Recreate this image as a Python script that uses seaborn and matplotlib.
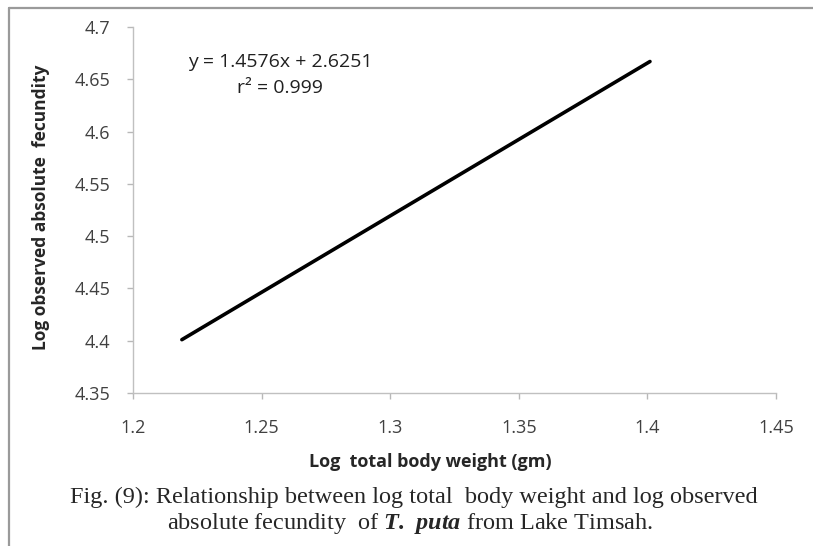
import numpy as np
import pandas as pd
import matplotlib
matplotlib.use('Agg')
import matplotlib.pyplot as plt
import seaborn as sns
from matplotlib.lines import Line2D

# fitted line end points
log_weight = [1.219, 1.401]
log_fecundity = [4.401, 4.667]

x_ticks = [1.2, 1.25, 1.3, 1.35, 1.4, 1.45]
y_ticks = [4.35, 4.4, 4.45, 4.5, 4.55, 4.6, 4.65, 4.7]

equation = 'y = 1.4576x + 2.6251'
r_squared = 'r\u00b2 = 0.999'

sns.set_style('ticks')
plt.rcParams['font.family'] = ['Open Sans', 'DejaVu Sans']
plt.rcParams['mathtext.fontset'] = 'custom'
plt.rcParams['mathtext.bf'] = 'Liberation Serif:bold:italic'
plt.rcParams['mathtext.rm'] = 'Liberation Serif'

W, H = 813, 546


def px(x, y):
    return x / W, 1 - y / H


df = pd.DataFrame({'x': log_weight, 'y': log_fecundity})

fig = plt.figure(figsize=(8.13, 5.46), dpi=100)
ax = fig.add_axes([133 / W, 1 - 393 / H, (776 - 133) / W, (393 - 27) / H])

sns.lineplot(data=df, x='x', y='y', color='black', linewidth=2.6, ax=ax)

ax.set_xlim(1.2, 1.45)
ax.set_ylim(4.35, 4.7)
ax.set_xticks(x_ticks)
ax.set_yticks(y_ticks)
ax.set_xticklabels([f'{v:g}' for v in x_ticks], fontsize=13, color='#404040')
ax.set_yticklabels([f'{v:g}' for v in y_ticks], fontsize=13, color='#404040')
ax.tick_params(axis='both', length=4.5, width=1, color='#b8b8b8', direction='out')
ax.tick_params(axis='x', pad=14)
ax.tick_params(axis='y', pad=12)

for side in ['top', 'right']:
    ax.spines[side].set_visible(False)
for side in ['left', 'bottom']:
    ax.spines[side].set_color('#c0c0c0')
    ax.spines[side].set_linewidth(1)

ax.set_xlabel('')
ax.set_ylabel('')
fig.text(*px(430, 462), 'Log  total body weight (gm)', fontsize=13, fontweight='bold',
         ha='center', va='center')
fig.text(*px(41, 207), 'Log observed absolute  fecundity', fontsize=12.5, fontweight='bold',
         ha='center', va='center', rotation=90)

fig.text(*px(280, 62), equation, ha='center', va='center', fontsize=14, color='#202020')
fig.text(*px(280, 88), r_squared, ha='center', va='center', fontsize=14, color='#202020')

fig.text(*px(414, 497), 'Fig. (9): Relationship between log total  body weight and log observed',
         ha='center', va='center', fontsize=17.5, family='Liberation Serif')
fig.text(*px(410, 523), 'absolute fecundity  of $\\mathbf{T.}$ $\\mathbf{puta}$ from Lake Timsah.',
         ha='center', va='center', fontsize=17.5, family='Liberation Serif')

# grey frame around the figure (top and left edges)
fig.add_artist(Line2D([9 / W, 1.0], [1 - 8 / H, 1 - 8 / H],
                      transform=fig.transFigure, color='#9a9a9a', linewidth=1.6))
fig.add_artist(Line2D([9 / W, 9 / W], [0.0, 1 - 8 / H],
                      transform=fig.transFigure, color='#9a9a9a', linewidth=1.6))

fig.savefig('out.png', dpi=100)
